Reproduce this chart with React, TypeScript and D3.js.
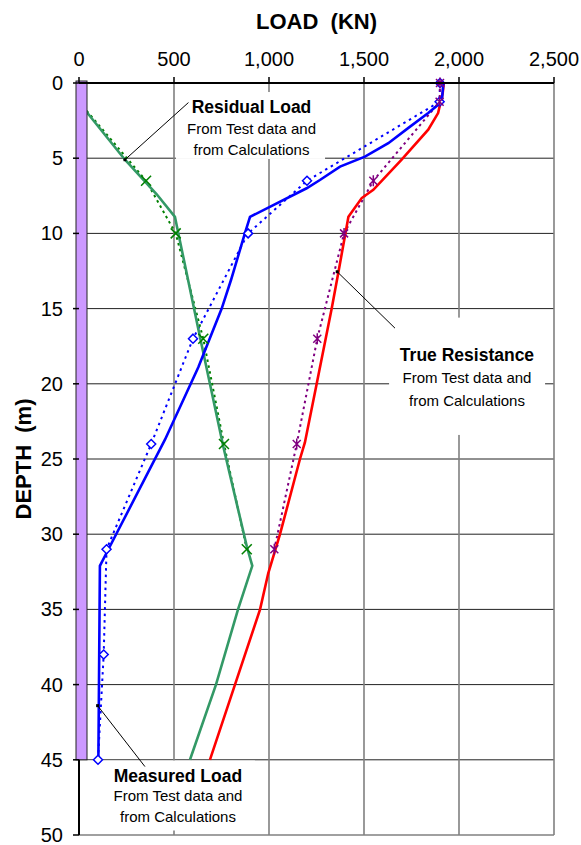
import React, { useEffect } from "react";
import * as d3 from "d3";

// Axis ticks
const loadTicks = [0, 500, 1000, 1500, 2000, 2500];
const depthTicks = [0, 5, 10, 15, 20, 25, 30, 35, 40, 45, 50];

// Test data (depth m, load kN)
const measuredTestDepths = [0, 1.25, 6.5, 10, 17, 24, 31, 38, 45];
const measuredTest = [1900, 1898, 1200, 890, 600, 380, 145, 130, 100];
const residualTestDepths = [1.25, 6.5, 10, 17, 24, 31];
const residualTest = [0, 353, 509, 654, 763, 883];
const resistanceTestDepths = [0, 1.25, 6.5, 10, 17, 24, 31];
const resistanceTest = [1900, 1898, 1549, 1395, 1254, 1146, 1028];

// Calculated distributions
const measuredCalcDepths = [0, 1.25, 2, 3, 4, 4.9, 5.56, 6.45, 7, 8.9, 10, 13.1, 15, 18.9, 23.7, 30.8, 32.1, 45];
const measuredCalc = [1918, 1909, 1838, 1732, 1628, 1505, 1374, 1268, 1198, 900, 873, 800, 751, 628, 453, 163, 110, 102];
const residualCalcDepths = [1.3, 5.1, 7.4, 8.9, 10, 16.9, 24.2, 30.8, 32.1, 35, 40, 45];
const residualCalc = [0, 242, 409, 505, 523, 637, 760, 883, 912, 837, 721, 584];
const resistanceCalcDepths = [0, 0.7, 2, 3.1, 5.1, 7.1, 7.65, 8.9, 12.6, 15, 20, 23.9, 25, 30, 32.6, 35, 40, 45];
const resistanceCalc = [1920, 1914, 1890, 1838, 1698, 1549, 1488, 1418, 1365, 1330, 1251, 1189, 1163, 1058, 996, 953, 821, 689];

const pileLength = 45;

type Pt = [number, number]; // [depth, load]
const zip = (ds: number[], vs: number[]): Pt[] => ds.map((d, i) => [d, vs[i]]);

const W = 581;
const H = 845;
const x = d3.scaleLinear().domain([0, 2500]).range([79, 554]);
const y = d3.scaleLinear().domain([0, 50]).range([83, 835]);

const line = d3
  .line<Pt>()
  .x((d) => x(d[1]))
  .y((d) => y(d[0]));

const FONT = "'Liberation Sans', Arial, sans-serif";

const markerPaths: Record<string, string> = {
  cross: "M-5,-5L5,5M-5,5L5,-5",
  diamond: "M0,-4.5L4.5,0L0,4.5L-4.5,0Z",
  star: "M-4,-4L4,4M-4,4L4,-4M0,-5.5L0,5.5",
};

// Annotation text blocks, placed in load / depth units
const annotations = [
  {
    title: "Residual Load",
    cx: 908,
    lines: [1.6, 3.05, 4.45],
    box: [510, 1295, 0.6, 5.05],
    from: [1.3, 576] as Pt,
    to: [5.1, 242] as Pt,
  },
  {
    title: "True Resistance",
    cx: 2042,
    lines: [18.1, 19.6, 21.1],
    box: [1632, 2453, 15.6, 23.4],
    from: [16.3, 1663] as Pt,
    to: [12.55, 1359] as Pt,
  },
  {
    title: "Measured Load",
    cx: 521,
    lines: [46.05, 47.4, 48.8],
    box: [5, 926, 45.05, 49.7],
    from: [45.45, 347] as Pt,
    to: [41.4, 98] as Pt,
  },
];

function Markers({ pts, shape, color }: { pts: Pt[]; shape: string; color: string }) {
  // points sitting on the pile axis are covered by the pile
  return (
    <g>
      {pts
        .filter((p) => p[1] > 0)
        .map((p, i) => (
          <path
            key={i}
            d={markerPaths[shape]}
            transform={`translate(${x(p[1])},${y(p[0])})`}
            fill={shape === "diamond" ? "#fff" : "none"}
            stroke={color}
            strokeWidth={1.5}
          />
        ))}
    </g>
  );
}

export default function App() {
  useEffect(() => {
    document.body.style.margin = "0";
  }, []);

  const measuredT = zip(measuredTestDepths, measuredTest);
  const residualT = zip(residualTestDepths, residualTest);
  const resistanceT = zip(resistanceTestDepths, resistanceTest);

  return (
    <svg
      width={W}
      height={H}
      style={{ position: "absolute", left: 0, top: 0, background: "#fff" }}
      fontFamily={FONT}
    >
      <rect x={x(0)} y={y(0)} width={x(2500) - x(0)} height={y(50) - y(0)} fill="#fff" />

      {/* horizontal grid */}
      {depthTicks
        .filter((d) => d > 0 && d < 50)
        .map((d) => (
          <line key={d} x1={x(0)} x2={x(2500)} y1={y(d)} y2={y(d)} stroke="#222" strokeWidth={1} />
        ))}
      {/* vertical grid */}
      {loadTicks
        .filter((v) => v > 0)
        .map((v) => (
          <line key={v} x1={x(v)} x2={x(v)} y1={y(0)} y2={y(50)} stroke="#808080" strokeWidth={1.6} />
        ))}
      <line x1={x(0)} x2={x(2500)} y1={y(50)} y2={y(50)} stroke="#808080" strokeWidth={1.6} />

      {/* label backgrounds */}
      {annotations.map((a) => (
        <rect
          key={a.title}
          x={x(a.box[0])}
          y={y(a.box[2])}
          width={x(a.box[1]) - x(a.box[0])}
          height={y(a.box[3]) - y(a.box[2])}
          fill="#fff"
        />
      ))}

      {/* test data (dotted) */}
      <path d={line(residualT) || ""} fill="none" stroke="#008000" strokeWidth={2} strokeDasharray="2.5 3.5" />
      <path d={line(measuredT) || ""} fill="none" stroke="#0000ff" strokeWidth={2} strokeDasharray="2.5 4" />
      <path d={line(resistanceT) || ""} fill="none" stroke="#800080" strokeWidth={2} strokeDasharray="2.5 3.5" />

      {/* calculated (solid) */}
      <path d={line(zip(residualCalcDepths, residualCalc)) || ""} fill="none" stroke="#339966" strokeWidth={2.6} />
      <path d={line(zip(resistanceCalcDepths, resistanceCalc)) || ""} fill="none" stroke="#ff0000" strokeWidth={2.6} />
      <path d={line(zip(measuredCalcDepths, measuredCalc)) || ""} fill="none" stroke="#0000ff" strokeWidth={2.6} />

      <Markers pts={residualT} shape="cross" color="#008000" />
      <Markers pts={measuredT} shape="diamond" color="#0000ff" />
      <Markers pts={resistanceT} shape="star" color="#800080" />

      {/* pile */}
      <rect
        x={x(0) - 3}
        y={y(0) - 2}
        width={11}
        height={y(pileLength) - y(0) + 2}
        fill="#cc99ff"
        stroke="#222"
        strokeWidth={1}
      />

      {/* axes */}
      <line x1={x(0)} x2={x(2500)} y1={y(0)} y2={y(0)} stroke="#000" strokeWidth={2} />
      <line x1={x(0)} x2={x(0)} y1={y(pileLength)} y2={y(50)} stroke="#000" strokeWidth={2} />
      {loadTicks.map((v) => (
        <g key={v}>
          <line x1={x(v)} x2={x(v)} y1={y(0) - 6} y2={y(0)} stroke="#000" strokeWidth={1.5} />
          <text x={x(v)} y={58.5} textAnchor="middle" dominantBaseline="central" fontSize={20} fill="#000">
            {d3.format(",")(v)}
          </text>
        </g>
      ))}
      {depthTicks.map((d) => (
        <g key={d}>
          <line x1={x(0) - 6} x2={x(0)} y1={y(d)} y2={y(d)} stroke="#000" strokeWidth={1.5} />
          <text x={63} y={y(d)} textAnchor="end" dominantBaseline="central" fontSize={20} fill="#000">
            {d}
          </text>
        </g>
      ))}

      <text
        x={(x(0) + x(2500)) / 2}
        y={21.5}
        textAnchor="middle"
        dominantBaseline="central"
        fontSize={22}
        fontWeight="bold"
        style={{ whiteSpace: "pre" }}
      >
        {"LOAD  (KN)"}
      </text>
      <text
        transform={`translate(23,459) rotate(-90)`}
        textAnchor="middle"
        dominantBaseline="central"
        fontSize={22}
        fontWeight="bold"
        style={{ whiteSpace: "pre" }}
      >
        {"DEPTH  (m)"}
      </text>

      {/* annotations */}
      {annotations.map((a) => (
        <g key={a.title}>
          <line
            x1={x(a.from[1])}
            y1={y(a.from[0])}
            x2={x(a.to[1])}
            y2={y(a.to[0])}
            stroke="#000"
            strokeWidth={1}
          />
          <rect x={x(a.to[1]) - 1.5} y={y(a.to[0]) - 1.5} width={3} height={3} fill="#000" />
          <text x={x(a.cx)} y={y(a.lines[0])} textAnchor="middle" dominantBaseline="central" fontSize={17.5} fontWeight="bold">
            {a.title}
          </text>
          <text x={x(a.cx)} y={y(a.lines[1])} textAnchor="middle" dominantBaseline="central" fontSize={15}>
            From Test data and
          </text>
          <text x={x(a.cx)} y={y(a.lines[2])} textAnchor="middle" dominantBaseline="central" fontSize={15}>
            from Calculations
          </text>
        </g>
      ))}
    </svg>
  );
}
